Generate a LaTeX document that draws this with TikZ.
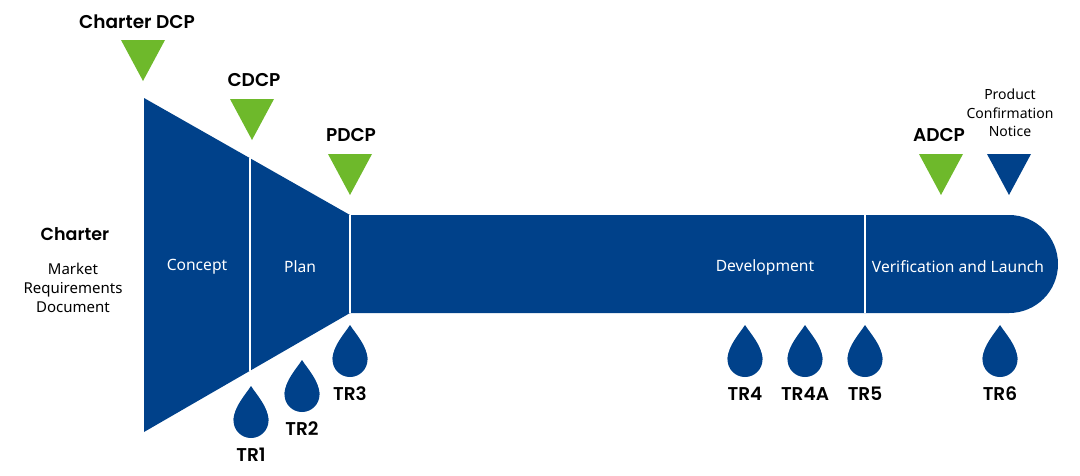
\documentclass[tikz,border=0pt]{standalone}
\usepackage{fontspec}
\setmainfont{Noto Sans}
\newfontfamily\headfont{Poppins}[BoldFont={Poppins SemiBold}]
\usetikzlibrary{positioning}
\definecolor{ipdblue}{RGB}{0,65,138}
\definecolor{ipdgreen}{RGB}{110,185,43}

\begin{document}
\begin{tikzpicture}[x=1pt,y=-1pt,tag/.style={font=\headfont\bfseries\fontsize{18.5}{20}\selectfont,inner sep=0pt},phase/.style={text=white,font=\fontsize{15.6}{18}\selectfont,inner sep=0pt},note/.style={align=center,font=\fontsize{14}{18.5}\selectfont,inner sep=0pt},sep/.style={draw=white,line width=1.5pt}]

\useasboundingbox (0,0) rectangle (1080,475);

% funnel and bar
\fill[ipdblue] (144,98) -- (350,215) -- (1009,215) -- (1009,313) -- (350,313) -- (144,432) -- cycle;
\fill[ipdblue] (1009,264) circle (49);
\draw[sep] (250,158) -- (250,371);
\draw[sep] (350,215) -- (350,313);
\draw[sep] (865,215) -- (865,313);

\node[phase] (concept) at (197,267) {Concept};
\node[phase] (plan) at (300,267) {Plan};
\node[phase] (devel) at (765,267) {Development};
\node[phase] (verif) at (958,267) {Verification and Launch};

\node[tag,font=\headfont\bfseries\fontsize{17.5}{20}\selectfont] (charter) at (75,234) {Charter};
\node[note,font=\fontsize{15}{19}\selectfont] (mrd) at (73,288) {Market\\Requirements\\Document};

% decision points
\foreach \x/\y in {143/40,252/99,350/154,941/154}
  \fill[ipdgreen] (\x-22,\y) -- (\x+22,\y) -- (\x,\y+41) -- cycle;
\fill[ipdblue] (987,154) -- (1031,154) -- (1009,195) -- cycle;
\node[tag] (chdcp) at (137,22) {Charter DCP};
\node[tag] (cdcp) at (254,80) {CDCP};
\node[tag] (pdcp) at (351,135) {PDCP};
\node[tag] (adcp) at (939,135) {ADCP};
\node[note] (pcn) at (1010,113) {Product\\Confirmation\\Notice};

% technical reviews
\foreach \x/\b/\n in {251/438/TR1,302/412/TR2,350/377/TR3,745/377/TR4,805/377/TR4A,865/377/TR5,1000/377/TR6}{
  \fill[ipdblue] (\x,\b-17.5) circle (17.5);
  \fill[ipdblue] (\x,\b-52) .. controls (\x+5,\b-44) and (\x+17.5,\b-31) .. (\x+17.5,\b-17.5) -- (\x-17.5,\b-17.5) .. controls (\x-17.5,\b-31) and (\x-5,\b-44) .. cycle;
  \node[tag] (\n) at (\x,\b+17) {\n};
}
\end{tikzpicture}
\end{document}
